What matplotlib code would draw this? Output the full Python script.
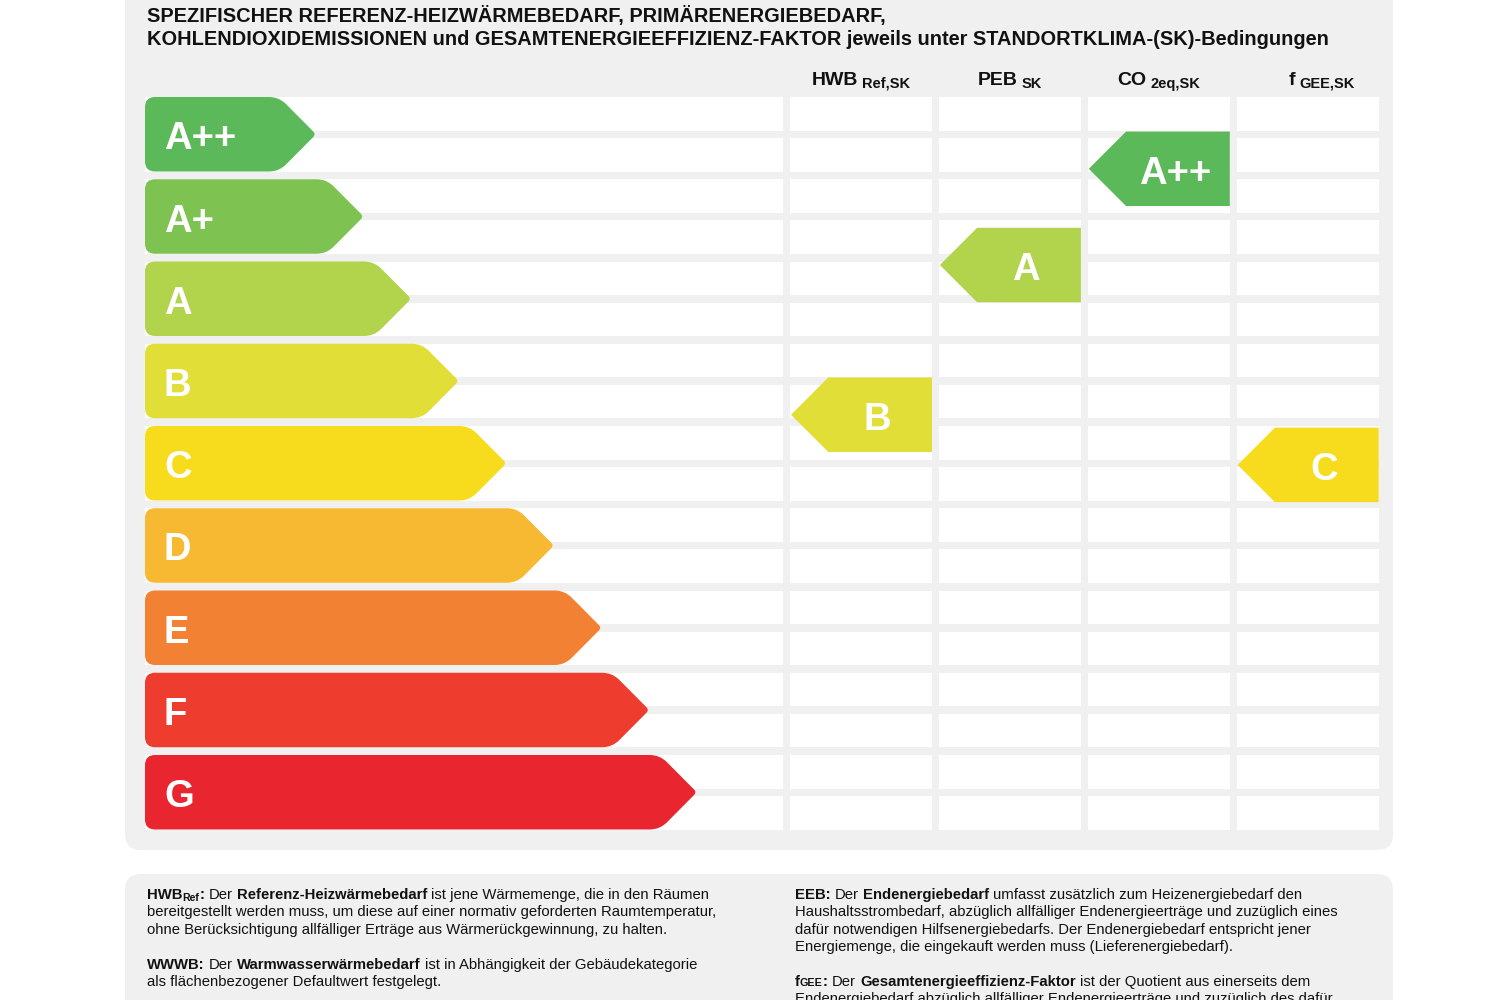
import matplotlib
matplotlib.use("Agg")
import numpy as np
import matplotlib.pyplot as plt
from matplotlib.path import Path
from matplotlib.patches import PathPatch, FancyBboxPatch, Rectangle, Polygon

plt.rcParams['font.family'] = ['Liberation Sans', 'DejaVu Sans']

# ---------------- data ----------------
classes = ["A++", "A+", "A", "B", "C", "D", "E", "F", "G"]
class_colors = ["#5cb95a", "#7ec252", "#b2d34c", "#e2de38", "#f7dc1e",
                "#f7b932", "#f38134", "#ee3d2f", "#e92630"]
columns = ["HWB", "PEB", "CO", "f"]
column_subs = ["Ref,SK", "SK", "2eq,SK", "GEE,SK"]
column_ratings = ["B", "A", "A++", "C"]
# marker position in class units (0 = centre of the A++ row)
column_marker_pos = [3.41, 1.59, 0.42, 4.02]

title_lines = [
    "SPEZIFISCHER REFERENZ-HEIZWÄRMEBEDARF, PRIMÄRENERGIEBEDARF,",
    "KOHLENDIOXIDEMISSIONEN und GESAMTENERGIEEFFIZIENZ-FAKTOR jeweils unter STANDORTKLIMA-(SK)-Bedingungen",
]

# runs: (text, bold, scale, dy)
footer_left = [
    [("HWB", True, 1, 0), ("Ref", True, 0.7, 2), (":", True, 1, 0), (" Der ", False, 1, 0),
     ("Referenz-Heizwärmebedarf", True, 1, 0), (" ist jene Wärmemenge, die in den Räumen", False, 1, 0)],
    [("bereitgestellt werden muss, um diese auf einer normativ geforderten Raumtemperatur,", False, 1, 0)],
    [("ohne Berücksichtigung allfälliger Erträge aus Wärmerückgewinnung, zu halten.", False, 1, 0)],
    [],
    [("WWWB:", True, 1, 0), (" Der ", False, 1, 0), ("Warmwasserwärmebedarf", True, 1, 0),
     (" ist in Abhängigkeit der Gebäudekategorie", False, 1, 0)],
    [("als flächenbezogener Defaultwert festgelegt.", False, 1, 0)],
]
footer_right = [
    [("EEB:", True, 1, 0), (" Der ", False, 1, 0), ("Endenergiebedarf", True, 1, 0),
     (" umfasst zusätzlich zum Heizenergiebedarf den", False, 1, 0)],
    [("Haushaltsstrombedarf, abzüglich allfälliger Endenergieerträge und zuzüglich eines", False, 1, 0)],
    [("dafür notwendigen Hilfsenergiebedarfs. Der Endenergiebedarf entspricht jener", False, 1, 0)],
    [("Energiemenge, die eingekauft werden muss (Lieferenergiebedarf).", False, 1, 0)],
    [],
    [("f", True, 1, 0), ("GEE", True, 0.72, 0), (":", True, 1, 0), (" Der ", False, 1, 0),
     ("Gesamtenergieeffizienz-Faktor", True, 1, 0), (" ist der Quotient aus einerseits dem", False, 1, 0)],
    [("Endenergiebedarf abzüglich allfälliger Endenergieerträge und zuzüglich des dafür", False, 1, 0)],
]

# ---------------- layout ----------------
fig = plt.figure(figsize=(15, 10), dpi=100)
ax = fig.add_axes([0, 0, 1, 1])
ax.set_xlim(0, 1500)
ax.set_ylim(1000, 0)
ax.axis('off')
renderer = fig.canvas.get_renderer()

PANEL_GRAY = "#f0f0f0"
row_top0, row_pitch, row_h = 97.0, 82.25, 74.5
stripe_h, stripe_step = 33.5, 41.1
left_x0, left_x1 = 145, 783
col_x0, col_pitch, col_w = 790, 148.9, 142
tip0, tip_step, tip_depth = 316, 47.6, 33
LETTER_SIZE = 27.5

ax.add_patch(FancyBboxPatch((125, -40), 1268, 890,
                            boxstyle="round,pad=0,rounding_size=16",
                            fc=PANEL_GRAY, ec='none'))
ax.add_patch(FancyBboxPatch((125, 874), 1268, 200,
                            boxstyle="round,pad=0,rounding_size=16",
                            fc=PANEL_GRAY, ec='none'))

# stripes
for i in range(len(classes)):
    for k in range(2):
        y = row_top0 + i * row_pitch + k * stripe_step
        ax.add_patch(Rectangle((left_x0, y), left_x1 - left_x0, stripe_h, fc='white', ec='none'))
        for j in range(len(columns)):
            ax.add_patch(Rectangle((col_x0 + j * col_pitch, y), col_w, stripe_h, fc='white', ec='none'))


def rounded_path(pts, radii):
    pts = [np.array(p, float) for p in pts]
    n = len(pts)
    verts, codes = [], []
    for j in range(n):
        p, prv, nxt = pts[j], pts[j - 1], pts[(j + 1) % n]
        r = radii[j]
        d1 = (prv - p) / np.linalg.norm(prv - p)
        d2 = (nxt - p) / np.linalg.norm(nxt - p)
        a, b = p + d1 * r, p + d2 * r
        verts.append(a)
        codes.append(Path.MOVETO if j == 0 else Path.LINETO)
        verts += [p, b]
        codes += [Path.CURVE3, Path.CURVE3]
    verts.append(verts[0])
    codes.append(Path.CLOSEPOLY)
    return Path(verts, codes)


# class arrows
for i, (lab, colr) in enumerate(zip(classes, class_colors)):
    top = row_top0 + i * row_pitch
    bot = top + row_h
    mid = (top + bot) / 2
    tip = tip0 + i * tip_step
    body = tip - tip_depth - 4
    pts = [(left_x0, top), (body, top), (tip, mid), (body, bot), (left_x0, bot)]
    ax.add_patch(PathPatch(rounded_path(pts, [10, 10, 4, 10, 10]), fc=colr, ec='none'))
    ax.text(164, mid + 1, lab, color='white', fontsize=LETTER_SIZE, fontweight='bold',
            ha='left', va='center_baseline')

# column markers
for j, (rating, pos) in enumerate(zip(column_ratings, column_marker_pos)):
    ci = classes.index(rating)
    mid = row_top0 + row_h / 2 + pos * row_pitch
    x_left = col_x0 + j * col_pitch + 1
    x_right = col_x0 + j * col_pitch + col_w
    body = x_left + row_h / 2
    pts = [(x_left, mid), (body, mid - row_h / 2), (x_right, mid - row_h / 2),
           (x_right, mid + row_h / 2), (body, mid + row_h / 2)]
    ax.add_patch(Polygon(pts, closed=True, fc=class_colors[ci], ec='none'))
    ax.text((body + x_right) / 2 - 3, mid + 1, rating, color='white', fontsize=LETTER_SIZE,
            fontweight='bold', ha='center', va='center_baseline')


def measure(s, size, bold):
    t = ax.text(0, 0, s, fontsize=size, fontweight='bold' if bold else 'normal')
    w = t.get_window_extent(renderer).width
    t.remove()
    return w


def run_width(s, size, bold):
    # advance width of s, spaces included, measured between two bars
    return measure("|" + s + "|", size, bold) - measure("||", size, bold)


def rich(x, y, runs, size, color='#111111'):
    for text, bold, scale, dy in runs:
        fs = size * scale
        lead = run_width(text[:len(text) - len(text.lstrip(" "))], fs, bold) if text.startswith(" ") else 0
        ax.text(x + lead, y + dy, text.strip(" "), fontsize=fs,
                fontweight='bold' if bold else 'normal', color=color,
                ha='left', va='baseline')
        x += run_width(text, fs, bold)
    return x


# title
for k, line in enumerate(title_lines):
    ax.text(147, 22 + k * 23, line, fontsize=14.45, fontweight='bold', color='#111111',
            ha='left', va='baseline')

# headers
header_shift = [0, 0, 0, 14]
for j, (main, sub) in enumerate(zip(columns, column_subs)):
    runs = [(main, True, 1, 0), (" " + sub, True, 0.75, 3)]
    total = sum(run_width(t, 14 * s, b) for t, b, s, d in runs)
    cx = col_x0 + j * col_pitch + col_w / 2 + header_shift[j]
    rich(cx - total / 2, 85, runs, 14)

# footer
line_h = 17.4
for k, runs in enumerate(footer_left):
    if runs:
        rich(147, 899 + k * line_h, runs, 10.75)
for k, runs in enumerate(footer_right):
    if runs:
        rich(795, 899 + k * line_h, runs, 10.75)

fig.savefig("out.png", dpi=100, facecolor='white')
